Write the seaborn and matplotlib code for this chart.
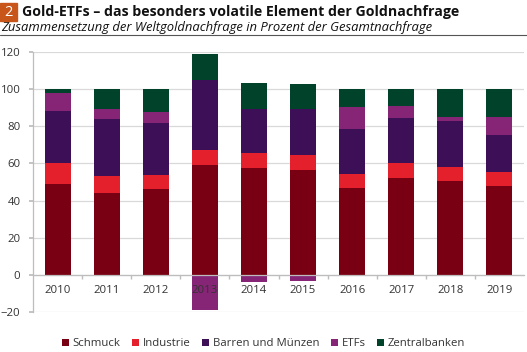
import numpy as np
import pandas as pd
import seaborn as sns
import matplotlib.pyplot as plt
from matplotlib.patches import Patch, Rectangle
from matplotlib.lines import Line2D

# Daten: Anteil an der Gesamtnachfrage in Prozent
years = ['2010', '2011', '2012', '2013', '2014', '2015', '2016', '2017', '2018', '2019']
schmuck = [49, 44, 46, 59, 57.5, 56.5, 47, 52, 50.5, 48]
industrie = [11, 9, 8, 8, 8, 8, 7.5, 8, 7.5, 7.5]
barren = [28.5, 31, 28, 38, 24, 25, 24, 24.5, 25, 20]
etfs = [9.5, 5.5, 5.5, -19, -3.8, -3.2, 12, 6.5, 2, 9.5]
zentralbanken = [2, 10.5, 12.5, 14, 14, 13.5, 9.5, 9, 15, 15]

series_names = ['Schmuck', 'Industrie', 'Barren und Münzen', 'ETFs', 'Zentralbanken']
colors = ['#790012', '#E3202C', '#3C0F57', '#862576', '#00432A']

sns.set_theme(style='white')
plt.rcParams['font.family'] = ['Open Sans', 'DejaVu Sans']

# kumulierte Obergrenzen der positiven Teile
s = np.array(schmuck)
i = s + np.array(industrie)
b = i + np.array(barren)
e = b + np.clip(etfs, 0, None)
z = e + np.array(zentralbanken)
neg = np.clip(etfs, None, 0)

fig = plt.figure(figsize=(5.27, 3.52), dpi=100)
ax = fig.add_axes([33 / 527, 1 - 312 / 352, 491 / 527, 260 / 352])

# von oben nach unten übereinander zeichnen
layers = [(z, colors[4]), (e, colors[3]), (b, colors[2]), (i, colors[1]), (s, colors[0]), (neg, colors[3])]
for vals, col in layers:
    df = pd.DataFrame({'Jahr': years, 'Wert': vals})
    sns.barplot(data=df, x='Jahr', y='Wert', color=col, width=0.53,
                linewidth=0, saturation=1, ax=ax, zorder=3)

ax.set_xlim(-0.5, 9.5)
ax.set_ylim(-20, 120)
ax.set_yticks(range(-20, 121, 20))
ax.set_xlabel('')
ax.set_ylabel('')
ax.yaxis.grid(True, color='#d9d9d9', linewidth=0.9)
ax.set_axisbelow(True)
# Jahreszahlen über den Balken (2013 liegt auf dem ETF-Balken)
ax.xaxis.set_zorder(5)

for sp in ['top', 'right']:
    ax.spines[sp].set_visible(False)
ax.spines['left'].set_color('#bdbdbd')
ax.spines['left'].set_linewidth(0.9)
ax.spines['bottom'].set_position(('data', 0))
ax.spines['bottom'].set_color('#bdbdbd')
ax.spines['bottom'].set_linewidth(0.9)
ax.spines['bottom'].set_zorder(4)

ax.tick_params(axis='y', length=3, color='#bdbdbd', labelsize=8.2, labelcolor='#333333', pad=6, left=True)
ax.tick_params(axis='x', which='major', length=0, labelsize=8.2, labelcolor='#333333', pad=7)
ax.set_xticks(np.arange(0.5, 9.5, 1), minor=True)
ax.tick_params(axis='x', which='minor', length=3, color='#bdbdbd', bottom=True)

# Titelbereich
fig.patches.append(Rectangle((0, 1 - 21 / 352), 17 / 527, 18 / 352, transform=fig.transFigure,
                             color='#C8561B', zorder=5))
fig.text(8.5 / 527, 1 - 12 / 352, '2', color='white', fontsize=10.5, ha='center', va='center', zorder=6)
fig.text(22 / 527, 1 - 12 / 352, 'Gold-ETFs – das besonders volatile Element der Goldnachfrage',
         fontsize=10.2, fontweight='bold', color='#111111', va='center')
fig.text(1 / 527, 1 - 27 / 352, 'Zusammensetzung der Weltgoldnachfrage in Prozent der Gesamtnachfrage',
         fontsize=9.4, style='italic', color='#111111', va='center')
fig.lines.append(Line2D([0, 1], [1 - 35 / 352, 1 - 35 / 352], transform=fig.transFigure,
                        color='#555555', linewidth=0.8))

handles = [Patch(facecolor=c, edgecolor='none', label=n) for n, c in zip(series_names, colors)]
fig.legend(handles=handles, loc='center', bbox_to_anchor=(0.5, 1 - 344 / 352), ncol=5,
           frameon=False, fontsize=8.2, handlelength=0.65, handleheight=0.65,
           handletextpad=0.3, columnspacing=1.0, labelcolor='#333333')

fig.savefig('out.png', dpi=100)
